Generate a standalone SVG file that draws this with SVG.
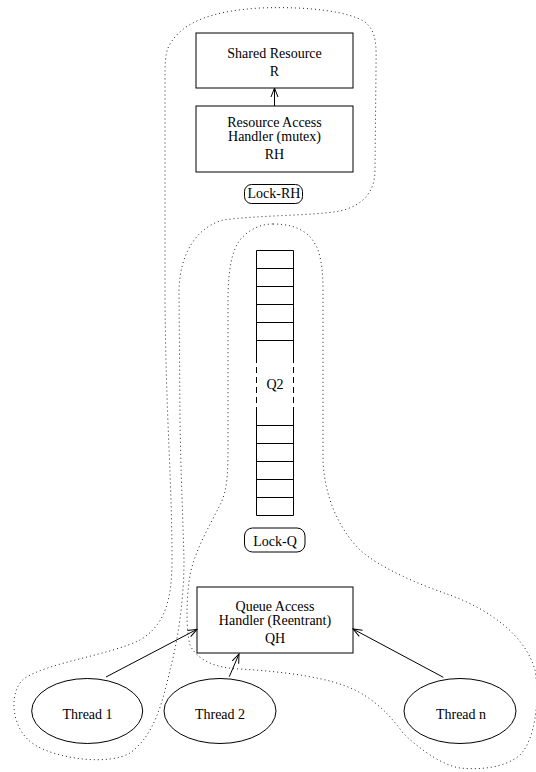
<svg xmlns="http://www.w3.org/2000/svg" width="536" height="772" viewBox="0 0 536 772">
<style>
text{font-family:"Liberation Serif","Times New Roman",serif;font-size:14px;fill:#000;text-anchor:middle}
.box{fill:#fff;stroke:#000;stroke-width:1}
.lock{fill:none;stroke:#000;stroke-width:1}
.q{stroke:#000;stroke-width:1;fill:none}
.dot{fill:none;stroke:#222;stroke-width:1;stroke-dasharray:1 3}
.conn{stroke:#000;stroke-width:1;fill:none;marker-end:url(#ah)}
</style>
<defs>
<marker id="ah" markerWidth="12" markerHeight="10" viewBox="-11 -5 12 10" refX="0" refY="0" orient="auto" markerUnits="userSpaceOnUse">
<path d="M-9,-3.5 L0,0 L-9,3.5" fill="none" stroke="#000" stroke-width="1"/>
</marker>
</defs>
<g id="regions">
<path id="region-rh" class="dot" d="M168,48 C180,22 212,11 260,8 C310,6 350,12 365,22 C378,32 376,50 376,70 L375,170 C375,190 365,205 340,211 C310,216 260,215 223,220 C195,228 180,255 179,290 L180,420 C181,480 183,520 184,560 C184,600 178,640 170,670 C163,700 155,735 130,753 C110,765 60,760 35,745 C10,730 8,690 25,678 C50,662 110,655 140,640 C165,625 172,600 172,560 C172,480 166,420 165,300 L165,80 C165,65 165,56 168,48 Z"/>
<path id="region-q" class="dot" d="M273,224 C300,224 312,235 318,250 C322,262 323,275 323,290 L323,460 C324,490 335,525 360,550 C380,568 420,585 450,595 C490,610 525,635 535,670 C540,700 535,740 520,755 C505,768 480,770 460,768 C440,765 415,745 403,733 C390,715 375,700 355,690 C330,678 290,672 240,669 C215,668 197,660 190,645 C186,630 186,600 190,575 C195,550 210,525 220,505 C228,490 228,470 228,440 L228,300 C228,270 232,250 240,240 C250,228 262,224 273,224 Z"/>
</g>
<g id="R">
<rect class="box" x="196" y="33" width="157" height="55"/>
<text x="274.5" y="58">Shared Resource</text>
<text x="274.5" y="76">R</text>
</g>
<g id="RH">
<rect class="box" x="196" y="106" width="157" height="66"/>
<text x="274.5" y="127">Resource Access</text>
<text x="274.5" y="141">Handler (mutex)</text>
<text x="274.5" y="159">RH</text>
</g>
<g id="LockRH">
<rect class="lock" x="244.5" y="184.5" width="58" height="19" rx="7" ry="7"/>
<text x="274" y="198">Lock-RH</text>
</g>
<g id="Q2">
<path class="q" d="M256.5,250.5 V357 M293.5,250.5 V357 M256.5,409 V515.5 M293.5,409 V515.5"/>
<path class="q" d="M256.5,357 V409 M293.5,357 V409" stroke-dasharray="6 4"/>
<path class="q" d="M256.5,250.5 H293.5 M256.5,268.5 H293.5 M256.5,286.5 H293.5 M256.5,304.5 H293.5 M256.5,322.5 H293.5 M256.5,340.5 H293.5 M256.5,425.5 H293.5 M256.5,443.5 H293.5 M256.5,461.5 H293.5 M256.5,479.5 H293.5 M256.5,497.5 H293.5 M256.5,515.5 H293.5"/>
<text x="275" y="388.5">Q2</text>
</g>
<g id="LockQ">
<rect class="lock" x="244.5" y="528" width="60.5" height="24" rx="8" ry="8"/>
<text x="275" y="545.5">Lock-Q</text>
</g>
<g id="QH">
<rect class="box" x="197" y="587" width="156" height="66"/>
<text x="275" y="611">Queue Access</text>
<text x="275" y="625">Handler (Reentrant)</text>
<text x="275" y="643">QH</text>
</g>
<g id="Thread1">
<ellipse class="box" cx="87.2" cy="711" rx="55.5" ry="32.5"/>
<text x="87.5" y="719">Thread 1</text>
</g>
<g id="Thread2">
<ellipse class="box" cx="220" cy="711" rx="56" ry="32.5"/>
<text x="220" y="719">Thread 2</text>
</g>
<g id="ThreadN">
<ellipse class="box" cx="460" cy="711" rx="56" ry="32.5"/>
<text x="461" y="719">Thread n</text>
</g>
<g id="connectors">
<line class="conn" x1="274.5" y1="106" x2="274.5" y2="88"/>
<line class="conn" x1="106" y1="677" x2="197" y2="629.3"/>
<line class="conn" x1="229.3" y1="676.7" x2="239" y2="654"/>
<line class="conn" x1="443.3" y1="677.3" x2="353" y2="629"/>
</g>
</svg>
